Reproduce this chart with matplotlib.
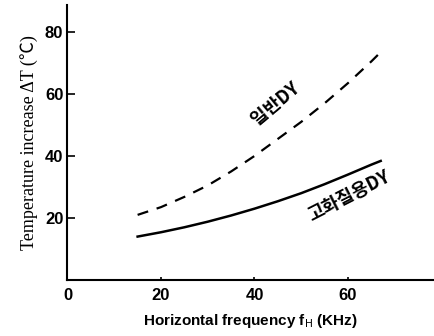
import matplotlib.pyplot as plt

plt.rcParams['font.family'] = ['Liberation Serif', 'Noto Sans CJK KR', 'DejaVu Sans']

freq = [15, 20, 25, 30, 35, 40, 45, 50, 55, 60, 65, 67]
normal_dy = [21, 23.5, 26.8, 30.5, 35, 40, 45.5, 51, 57, 63.5, 70.5, 73.5]    # 일반DY
hd_dy = [14, 15.4, 17.0, 18.8, 20.8, 23.0, 25.4, 28.0, 30.9, 34.0, 37.2, 38.4]  # 고화질용DY
xticks = [0, 20, 40, 60]
yticks = [20, 40, 60, 80]

fig = plt.figure(figsize=(4.34, 3.36), dpi=100)
ax = fig.add_axes([0.1555, 0.1667, 0.8445, 0.8185])

ax.plot(freq, normal_dy, color='black', linewidth=1.6, linestyle=(0, (5, 4)))
ax.plot(freq, hd_dy, color='black', linewidth=1.8)

ax.set_xlim(0, 78.4)
ax.set_ylim(0, 88.7)
ax.set_xticks(xticks)
ax.set_yticks(yticks)
ax.spines['top'].set_visible(False)
ax.spines['right'].set_visible(False)
ax.spines['left'].set_linewidth(1.5)
ax.spines['bottom'].set_linewidth(1.5)
ax.tick_params(axis='y', direction='in', length=6, width=1.2, labelsize=12, pad=3)
ax.tick_params(axis='x', direction='in', length=2.5, width=1.2, labelsize=12, pad=6)
for lab in ax.get_xticklabels() + ax.get_yticklabels():
    lab.set_fontweight('bold')
    lab.set_family(['Liberation Sans', 'DejaVu Sans'])

ax.set_ylabel('Temperature increase ΔT (℃)', fontsize=13, labelpad=5,
              family=['Liberation Serif', 'Noto Sans CJK KR'])
ax.set_xlabel(r'Horizontal frequency f$_{\rm H}$ (KHz)', fontsize=11, fontweight='bold',
              labelpad=6, family=['Liberation Sans', 'DejaVu Sans'])

ax.text(0.568, 0.640, '일반DY', transform=ax.transAxes, rotation=40, ha='center', va='center',
        fontsize=13, fontweight='bold', family=['Noto Sans CJK KR'])
ax.text(0.768, 0.305, '고화질용DY', transform=ax.transAxes, rotation=27, ha='center', va='center',
        fontsize=13, fontweight='bold', family=['Noto Sans CJK KR'])

fig.savefig('out.png', dpi=100)
